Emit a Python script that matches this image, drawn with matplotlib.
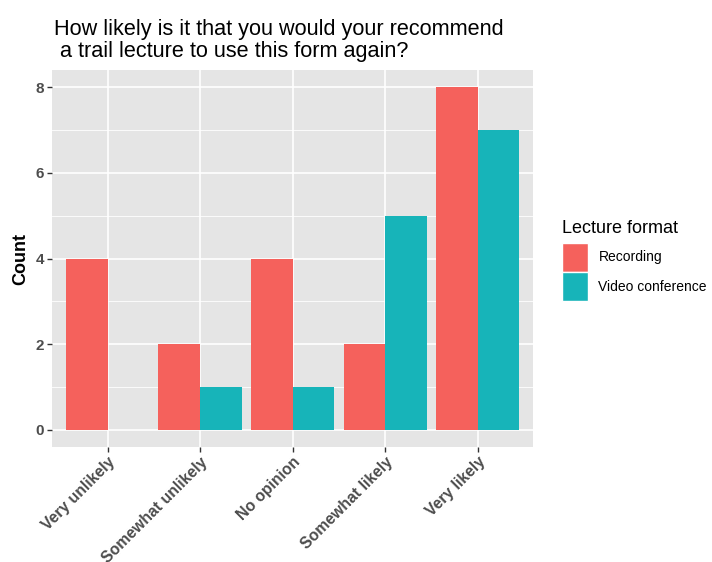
import matplotlib
matplotlib.use("Agg")
import matplotlib.pyplot as plt
import numpy as np
from matplotlib.patches import Patch

plt.rcParams['font.family'] = ['Liberation Sans', 'DejaVu Sans']

categories = ["Very unlikely", "Somewhat unlikely", "No opinion", "Somewhat likely", "Very likely"]
series_names = ["Recording", "Video conference"]
recording = [4, 2, 4, 2, 8]
video_conf = [0, 1, 1, 5, 7]
y_ticks = [0, 2, 4, 6, 8]

colors = ["#F5615C", "#17B4B9"]

fig = plt.figure(figsize=(7.12, 5.62), dpi=100)
ax = fig.add_axes([0.073, 0.205, 0.676, 0.67])
ax.set_facecolor("#E5E5E5")

x = np.arange(1, len(categories) + 1)
w = 0.45
ax.bar(x - w / 2, recording, width=w, color=colors[0], zorder=3)
ax.bar(x + w / 2, video_conf, width=w, color=colors[1], zorder=3)

ax.set_xlim(0.4, 5.6)
ax.set_ylim(-0.4, 8.4)
ax.set_yticks(y_ticks)
ax.set_yticks([1, 3, 5, 7], minor=True)
ax.set_xticks(x)
ax.set_xticklabels(categories, rotation=45, ha="right", rotation_mode="anchor",
                   fontsize=11.3, fontweight="bold", color="#4D4D4D")
ax.set_yticklabels([str(v) for v in y_ticks], fontsize=11, fontweight="bold", color="#4D4D4D")
ax.grid(True, which="major", color="white", linewidth=1.2, zorder=0)
ax.grid(True, which="minor", axis="y", color="white", linewidth=0.6, zorder=0)
ax.tick_params(axis="both", which="major", length=3.5, width=1, color="#333333", pad=2)
ax.tick_params(axis="y", which="minor", length=0)
for s in ax.spines.values():
    s.set_visible(False)

ax.set_ylabel("Count", fontsize=13, fontweight="bold", labelpad=5)

fig.text(0.076, 0.890, "How likely is it that you would your recommend\n a trail lecture to use this form again?",
         fontsize=15.6, ha="left", va="bottom", linespacing=1.05)

handles = [Patch(facecolor=colors[0], edgecolor="white"), Patch(facecolor=colors[1], edgecolor="white")]
leg = fig.legend(handles, series_names, title="Lecture format", loc="upper left",
                 bbox_to_anchor=(0.781, 0.618), frameon=False, fontsize=10,
                 title_fontsize=13, handlelength=1.9, handleheight=2.85,
                 handletextpad=0.75, labelspacing=0.0, borderaxespad=0)
leg._legend_box.align = "left"
leg._legend_box.sep = 4

fig.savefig("out.png", dpi=100)
